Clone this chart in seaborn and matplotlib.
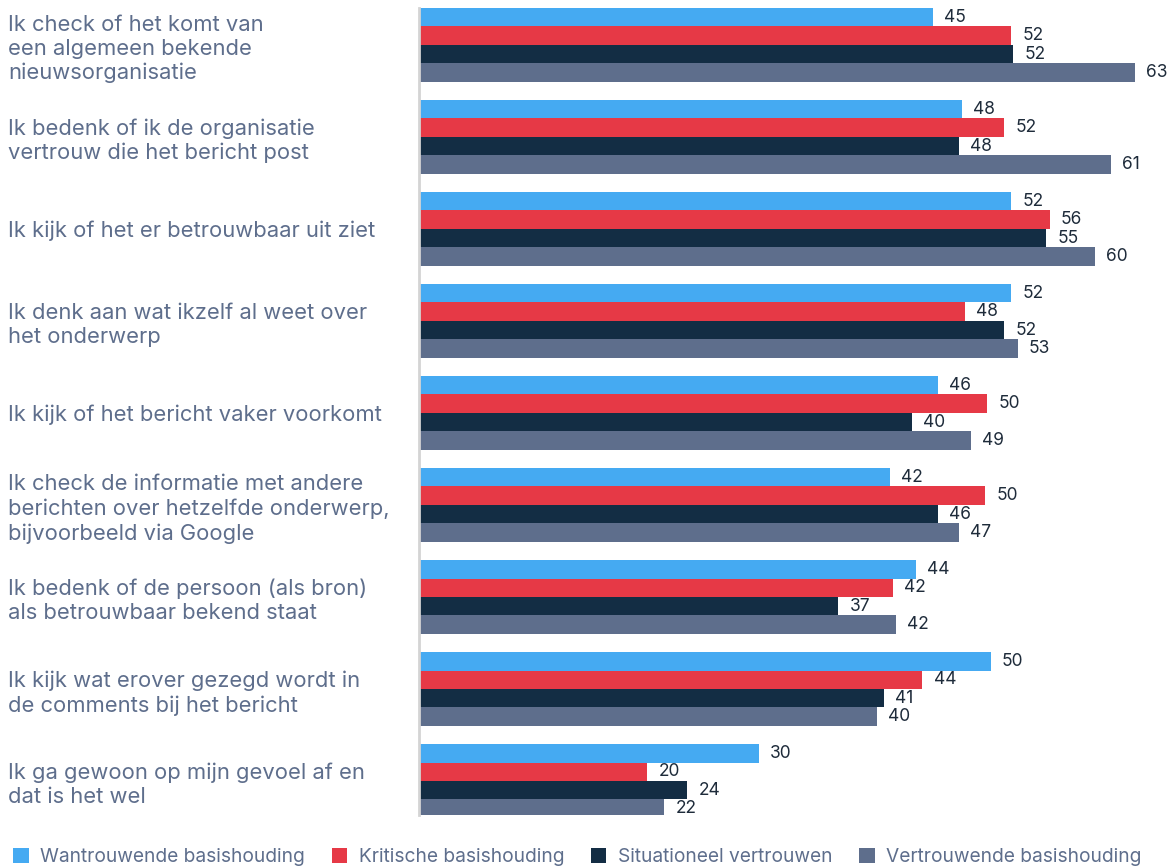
import pandas as pd
import seaborn as sns
import matplotlib.pyplot as plt

stellingen = [
    "Ik check of het komt van\neen algemeen bekende\nnieuwsorganisatie",
    "Ik bedenk of ik de organisatie\nvertrouw die het bericht post",
    "Ik kijk of het er betrouwbaar uit ziet",
    "Ik denk aan wat ikzelf al weet over\nhet onderwerp",
    "Ik kijk of het bericht vaker voorkomt",
    "Ik check de informatie met andere\nberichten over hetzelfde onderwerp,\nbijvoorbeeld via Google",
    "Ik bedenk of de persoon (als bron)\nals betrouwbaar bekend staat",
    "Ik kijk wat erover gezegd wordt in\nde comments bij het bericht",
    "Ik ga gewoon op mijn gevoel af en\ndat is het wel",
]
groepen = ["Wantrouwende basishouding", "Kritische basishouding",
           "Situationeel vertrouwen", "Vertrouwende basishouding"]

# barlengtes zoals
wantrouwend = [45.2, 47.8, 52.1, 52.1, 45.7, 41.4, 43.7, 50.3, 29.9]
kritisch = [52.1, 51.5, 55.5, 48.0, 50.0, 49.8, 41.7, 44.3, 20.1]
situationeel = [52.3, 47.5, 55.2, 51.5, 43.4, 45.7, 36.9, 40.9, 23.6]
vertrouwend = [63.0, 60.9, 59.5, 52.7, 48.6, 47.5, 42.0, 40.3, 21.6]

# getoonde labels
lab_wantrouwend = [45, 48, 52, 52, 46, 42, 44, 50, 30]
lab_kritisch = [52, 52, 56, 48, 50, 50, 42, 44, 20]
lab_situationeel = [52, 48, 55, 52, 40, 46, 37, 41, 24]
lab_vertrouwend = [63, 61, 60, 53, 49, 47, 42, 40, 22]

kleuren = ["#45aaf2", "#e63946", "#132d44", "#5e6e8c"]

rows = []
for g, vals in zip(groepen, [wantrouwend, kritisch, situationeel, vertrouwend]):
    for s, v in zip(stellingen, vals):
        rows.append({"stelling": s, "groep": g, "waarde": v})
df = pd.DataFrame(rows)

sns.set_theme(style="white")
plt.rcParams["font.family"] = ["Inter", "DejaVu Sans"]

fig = plt.figure(figsize=(11.73, 8.66), dpi=100)
ax = fig.add_axes([419 / 1173, 1 - 815 / 866, 1 - 419 / 1173, (815 - 8) / 866])

sns.barplot(data=df, y="stelling", x="waarde", hue="groep", orient="h",
            palette=kleuren, width=0.8, saturation=1, ax=ax, errorbar=None,
            linewidth=0)

labels_all = [lab_wantrouwend, lab_kritisch, lab_situationeel, lab_vertrouwend]
for c, labs in zip(ax.containers, labels_all):
    ax.bar_label(c, labels=[str(x) for x in labs], padding=8, fontsize=12.5,
                 color="#1e2b3a")

ax.set_xlim(0, (1173 - 419) / ((1135 - 419) / 63))
ax.set_ylim(8.37, -0.40)
ax.set_xlabel("")
ax.set_ylabel("")
ax.set_xticks([])
for sp in ["top", "right", "bottom"]:
    ax.spines[sp].set_visible(False)
ax.spines["left"].set_color("#d4d4d4")
ax.spines["left"].set_linewidth(2)

ax.tick_params(axis="y", length=0, pad=296, labelsize=15.8, labelcolor="#5e6e8c")
for lbl in ax.get_yticklabels():
    lbl.set_horizontalalignment("left")
    lbl.set_linespacing(1.25)

handles, labels = ax.get_legend_handles_labels()
ax.get_legend().remove()
fig.legend(handles, labels, loc="lower left", bbox_to_anchor=(0.0, -0.016),
           ncol=4, frameon=False, fontsize=13.8, labelcolor="#5e6e8c",
           handlelength=0.8, handleheight=0.8, handletextpad=0.6,
           columnspacing=1.4, borderaxespad=0.3)

fig.savefig("out.png", dpi=100)
